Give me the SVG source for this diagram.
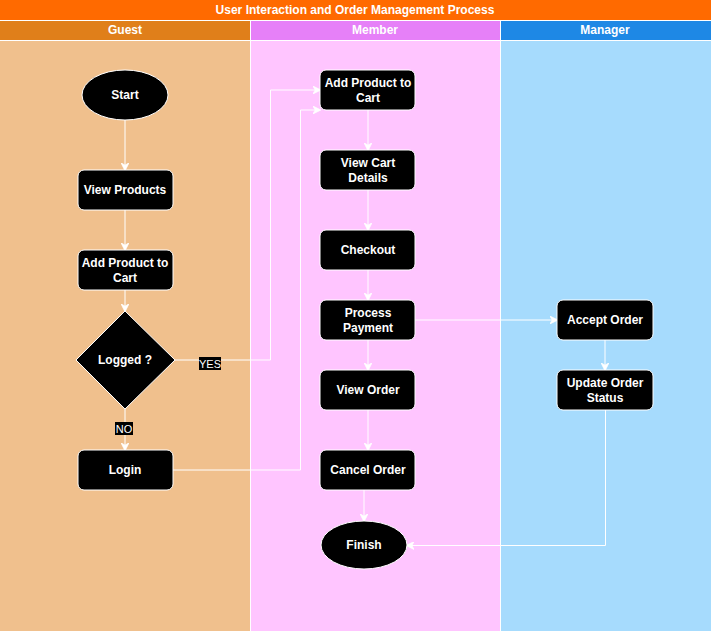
<svg xmlns="http://www.w3.org/2000/svg" width="711" height="631" viewBox="0 0 711 631">
  <style>
    .node { fill: #000000; stroke: #ffffff; stroke-width: 1; }
    .label { fill: #ffffff; font-family: "Liberation Sans", Arial, sans-serif; font-size: 12px; font-weight: bold; text-anchor: middle; }
    .head { fill: #ffffff; font-family: "Liberation Sans", Arial, sans-serif; font-size: 12px; font-weight: bold; text-anchor: middle; }
    .edge { fill: none; stroke: #ffffff; stroke-width: 1; }
    .tag { fill: #ffffff; font-family: "Liberation Sans", Arial, sans-serif; font-size: 11px; text-anchor: middle; }
  </style>
  <defs>
    <marker id="arrow" viewBox="0 0 10 10" refX="9" refY="5" markerWidth="8" markerHeight="8" markerUnits="userSpaceOnUse" orient="auto">
      <path d="M0,0 L10,5 L0,10 L3,5 Z" fill="#ffffff" stroke="#ffffff" stroke-width="1"/>
    </marker>
  </defs>

  <!-- pool and lanes -->
  <g id="pool">
    <rect x="0" y="0" width="711" height="20" fill="#ff6a00"/>
    <text class="head" x="355" y="14">User Interaction and Order Management Process</text>
  </g>
  <g id="lane-guest">
    <rect x="0" y="20" width="250" height="20" fill="#e07f1a"/>
    <rect x="0" y="40" width="250" height="591" fill="#f0c08d"/>
    <text class="head" x="125" y="34">Guest</text>
  </g>
  <g id="lane-member">
    <rect x="250" y="20" width="250" height="20" fill="#e680f8"/>
    <rect x="250" y="40" width="250" height="591" fill="#ffc5ff"/>
    <text class="head" x="375" y="34">Member</text>
  </g>
  <g id="lane-manager">
    <rect x="500" y="20" width="211" height="20" fill="#1e88e5"/>
    <rect x="500" y="40" width="211" height="591" fill="#a6dbfd"/>
    <text class="head" x="605" y="34">Manager</text>
  </g>
  <g id="lane-lines" stroke="#ffffff" stroke-width="1">
    <line x1="0" y1="20.5" x2="711" y2="20.5"/>
    <line x1="250.5" y1="20" x2="250.5" y2="631"/>
    <line x1="500.5" y1="20" x2="500.5" y2="631"/>
    <line x1="0" y1="40.5" x2="711" y2="40.5"/>
  </g>

  <!-- connectors -->
  <g id="connectors">
    <path class="edge" d="M125,120 L125,170" marker-end="url(#arrow)"/>
    <path class="edge" d="M125,210 L125,250" marker-end="url(#arrow)"/>
    <path class="edge" d="M125,290 L125,311" marker-end="url(#arrow)"/>
    <path class="edge" d="M125,409 L125,450" marker-end="url(#arrow)"/>
    <path class="edge" d="M175,360 L270.5,360 L270.5,90 L320,90" marker-end="url(#arrow)"/>
    <path class="edge" d="M173,470 L300.5,470 L300.5,110 L320,110" marker-end="url(#arrow)"/>
    <path class="edge" d="M368,110 L368,150" marker-end="url(#arrow)"/>
    <path class="edge" d="M368,190 L368,230" marker-end="url(#arrow)"/>
    <path class="edge" d="M368,270 L368,300" marker-end="url(#arrow)"/>
    <path class="edge" d="M368,340 L368,370" marker-end="url(#arrow)"/>
    <path class="edge" d="M368,410 L368,450" marker-end="url(#arrow)"/>
    <path class="edge" d="M364,490 L364,521" marker-end="url(#arrow)"/>
    <path class="edge" d="M415,320 L557,320" marker-end="url(#arrow)"/>
    <path class="edge" d="M605,340 L605,370" marker-end="url(#arrow)"/>
    <path class="edge" d="M605.5,410 L605.5,545.5 L407,545.5" marker-end="url(#arrow)"/>
    <rect x="199" y="357" width="22" height="13" fill="#000000"/>
    <text class="tag" x="210" y="368">YES</text>
    <rect x="115" y="422" width="18" height="13" fill="#000000"/>
    <text class="tag" x="124" y="433">NO</text>
  </g>

  <!-- guest nodes -->
  <g id="start">
    <ellipse class="node" cx="125" cy="95" rx="43" ry="25"/>
    <text class="label" x="125" y="99">Start</text>
  </g>
  <g id="view-products">
    <rect class="node" x="78" y="170" width="95" height="40" rx="6"/>
    <text class="label" x="125" y="194">View Products</text>
  </g>
  <g id="guest-add-to-cart">
    <rect class="node" x="78" y="250" width="95" height="40" rx="6"/>
    <text class="label" x="125" y="267">Add Product to</text>
    <text class="label" x="125" y="282">Cart</text>
  </g>
  <g id="logged">
    <path class="node" d="M125,311 L175,360 L125,409 L76,360 Z"/>
    <text class="label" x="125" y="364">Logged ?</text>
  </g>
  <g id="login">
    <rect class="node" x="78" y="450" width="95" height="40" rx="6"/>
    <text class="label" x="125" y="474">Login</text>
  </g>

  <!-- member nodes -->
  <g id="member-add-to-cart">
    <rect class="node" x="320" y="70" width="95" height="40" rx="6"/>
    <text class="label" x="368" y="87">Add Product to</text>
    <text class="label" x="368" y="102">Cart</text>
  </g>
  <g id="view-cart">
    <rect class="node" x="320" y="150" width="95" height="40" rx="6"/>
    <text class="label" x="368" y="167">View Cart</text>
    <text class="label" x="368" y="182">Details</text>
  </g>
  <g id="checkout">
    <rect class="node" x="320" y="230" width="95" height="40" rx="6"/>
    <text class="label" x="368" y="254">Checkout</text>
  </g>
  <g id="process-payment">
    <rect class="node" x="320" y="300" width="95" height="40" rx="6"/>
    <text class="label" x="368" y="317">Process</text>
    <text class="label" x="368" y="332">Payment</text>
  </g>
  <g id="view-order">
    <rect class="node" x="320" y="370" width="95" height="40" rx="6"/>
    <text class="label" x="368" y="394">View Order</text>
  </g>
  <g id="cancel-order">
    <rect class="node" x="320" y="450" width="95" height="40" rx="6"/>
    <text class="label" x="368" y="474">Cancel Order</text>
  </g>
  <g id="finish">
    <ellipse class="node" cx="364" cy="545" rx="43" ry="24"/>
    <text class="label" x="364" y="549">Finish</text>
  </g>

  <!-- manager nodes -->
  <g id="accept-order">
    <rect class="node" x="557" y="300" width="96" height="40" rx="6"/>
    <text class="label" x="605" y="324">Accept Order</text>
  </g>
  <g id="update-order-status">
    <rect class="node" x="557" y="370" width="96" height="40" rx="6"/>
    <text class="label" x="605" y="387">Update Order</text>
    <text class="label" x="605" y="402">Status</text>
  </g>
</svg>
